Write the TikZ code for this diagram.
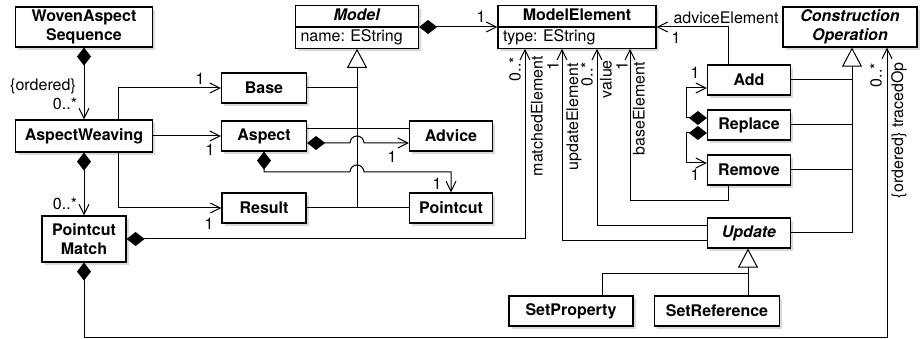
\documentclass[tikz,border=0pt]{standalone}
\usepackage{fontspec}
\setmainfont{TeX Gyre Heros}
\usepackage{tikz}
\usetikzlibrary{arrows.meta,shadows,shapes.multipart}

\newcommand\clsfont{\fontsize{16}{19}\selectfont\frenchspacing\bfseries}
\newcommand\lblfont{\fontsize{16}{19}\selectfont}

\tikzset{
  cls/.style={draw, line width=1.2pt, fill=white, font=\clsfont, align=center,
    minimum height=30pt, inner sep=2pt,
    drop shadow={opacity=0.3, shadow xshift=2.5pt, shadow yshift=-3pt}},
  abstractcls/.style={cls, font=\clsfont\itshape},
  splitcls/.style={cls, rectangle split, rectangle split parts=2,
    minimum height=0pt, inner xsep=5pt, inner ysep=0.5pt},
  line/.style={line width=1pt},
  assoc/.style={line, -{Straight Barb[length=10pt,width=10pt]}},
  comp/.style={line, {Diamond[length=18pt,width=14pt]}-{Straight Barb[length=10pt,width=10pt]}},
  gen/.style={line, -{Triangle[length=19pt,width=20pt,fill=white]}},
  lbl/.style={font=\lblfont, inner sep=1pt},
  vlbl/.style={lbl, rotate=90, anchor=east},
}

\begin{document}
\begin{tikzpicture}[x=1pt,y=-1pt]
    \useasboundingbox (0,0) rectangle (922,339);
    % classes
    \node [cls, minimum width=137pt, minimum height=40pt] (was) at (84,27) {WovenAspect\\Sequence};
    \node [cls, minimum width=137pt, minimum height=32pt] (aw) at (84,136) {AspectWeaving};
    \node [cls, minimum width=84pt, minimum height=46pt] (pm) at (84,239) {Pointcut\\Match};
    \node [cls, minimum width=85pt] (base) at (264,88) {Base};
    \node [cls, minimum width=85pt] (aspect) at (264,136) {Aspect};
    \node [cls, minimum width=84pt] (result) at (264,208) {Result};
    \node [cls, minimum width=83pt] (advice) at (451,136) {Advice};
    \node [cls, minimum width=83pt] (pointcut) at (451,208) {Pointcut};
    \node [splitcls, text width=113pt] (model) at (357,27)
        {\makebox[\hsize]{\strut\textit{Model}}\nodepart{two}\mdseries\makebox[\hsize][l]{\strut name: EString}};
    \node [splitcls, text width=148pt] (melem) at (577,27)
        {\makebox[\hsize]{\strut ModelElement}\nodepart{two}\mdseries\makebox[\hsize][l]{\strut type: EString}};
    \node [abstractcls, minimum width=134pt, minimum height=40pt] (conop) at (850,27) {Construction\\Operation};
    \node [cls, minimum width=83pt] (add) at (749,80) {Add};
    \node [cls, minimum width=83pt] (replace) at (749,125) {Replace};
    \node [cls, minimum width=83pt] (remove) at (749,170) {Remove};
    \node [abstractcls, minimum width=83pt] (update) at (749,233) {Update};
    \node [cls, minimum width=124pt] (setprop) at (571,311) {SetProperty};
    \node [cls, minimum width=125pt] (setref) at (717,311) {SetReference};

    % generalisation to Model
    \coordinate (gm) at (357,208);
    \draw [gen] (gm) -- (model.south);
    \draw [line] (base.east) -- (base.east -| gm);
    \coordinate (ja) at (357,129);
    \draw [line] (aspect.east |- ja) -- (advice.west |- ja);
    \draw [line] (result.east) -- (pointcut.west);

    % aspect weaving
    \draw [comp] (was.south) -- (aw.north);
    \draw [comp] (aw.south) -- (pm.north);
    \coordinate (awb) at (118,88);
    \draw [assoc] (aw.north -| awb) -- (awb) -- (base.west);
    \draw [assoc] (aw.east) -- (aspect.west);
    \coordinate (awr) at (118,208);
    \draw [assoc] (aw.south -| awr) -- (awr) -- (result.west);

    % aspect parts, jumping the generalisation line
    \coordinate (jb) at (357,143);
    \draw [comp] (aspect.east |- jb) -- ([xshift=-7pt]jb)
        arc [start angle=180, end angle=0, radius=7pt] -- (advice.west |- jb);
    \coordinate (jc) at (357,172);
    \draw [comp] (aspect.south) -- (aspect.south |- jc) -- ([xshift=-7pt]jc)
        arc [start angle=180, end angle=0, radius=7pt] -- (pointcut.north |- jc) -- (pointcut.north);

    % model elements
    \draw [comp] (model.east) -- (melem.west);
    \coordinate (lm) at (525,239);
    \draw [comp] (pm.east) -- (lm) -- (lm |- melem.south);
    \coordinate (lu) at (562,241);
    \draw [assoc] (update.west |- lu) -- (lu) -- (lu |- melem.south);
    \coordinate (lv) at (597,226);
    \draw [assoc] (update.west |- lv) -- (lv) -- (lv |- melem.south);
    \coordinate (lr) at (728,201);
    \coordinate (lb) at (630,201);
    \draw [assoc] (remove.south -| lr) -- (lr) -- (lb) -- (lb |- melem.south);
    \coordinate (la) at (728,27);
    \draw [assoc] (add.north -| la) -- (la) -- (melem.east |- la);

    % replace = remove + add
    \coordinate (r1) at (686,118);
    \coordinate (r2) at (686,88);
    \coordinate (r3) at (686,133);
    \coordinate (r4) at (686,163);
    \draw [comp] (replace.west |- r1) -- (r1) -- (r2) -- (add.west |- r2);
    \draw [comp] (replace.west |- r3) -- (r3) -- (r4) -- (remove.west |- r4);

    % generalisation to ConstructionOperation
    \coordinate (gc) at (852,233);
    \draw [gen] (gc) -- (gc |- conop.south);
    \foreach \op in {add,replace,remove,update}
        \draw [line] (\op.east) -- (\op.east -| gc);

    % generalisation to Update
    \coordinate (gu) at (748,274);
    \coordinate (gp) at (602,274);
    \draw [line] (setprop.north -| gp) -- (gp) -- (gu);
    \draw [gen] (setref.north -| gu) -- (update.south -| gu);

    % traced operations
    \coordinate (t1) at (84,338);
    \coordinate (t2) at (887,338);
    \draw [comp] (pm.south) -- (t1) -- (t2) -- (t2 |- conop.south);

    % labels
    \node [lbl] (l-ord) at (43,86) {\{ordered\}};
    \node [lbl] (l-seq) at (65,104) {0..*};
    \node [lbl] (l-base) at (200,79) {1};
    \node [lbl] (l-asp) at (210,150) {1};
    \node [lbl] (l-pm) at (65,204) {0..*};
    \node [lbl] (l-res) at (209,224) {1};
    \node [lbl] (l-adv) at (392,157) {1};
    \node [lbl] (l-pc) at (437,184) {1};
    \node [lbl] (l-me) at (481,17) {1};
    \node [lbl] (l-advel) at (726,18) {adviceElement};
    \node [lbl] (l-advone) at (676,38) {1};
    \node [lbl] (l-add) at (695,73) {1};
    \node [lbl] (l-rem) at (695,175) {1};
    \node [vlbl] (l-mm) at (515,56) {0..*};
    \node [vlbl] (l-match) at (537,55) {matchedElement};
    \node [vlbl] (l-uone) at (553,60) {1};
    \node [vlbl] (l-upd) at (574,62) {updateElement};
    \node [vlbl] (l-vm) at (587,61) {0..*};
    \node [vlbl] (l-val) at (606,59) {value};
    \node [vlbl] (l-bone) at (622,60) {1};
    \node [vlbl] (l-basel) at (639,61) {baseElement};
    \node [vlbl] (l-tm) at (876,62) {0..*};
    \node [vlbl] (l-trace) at (899,61) {\{ordered\} tracedOp};
\end{tikzpicture}
\end{document}
